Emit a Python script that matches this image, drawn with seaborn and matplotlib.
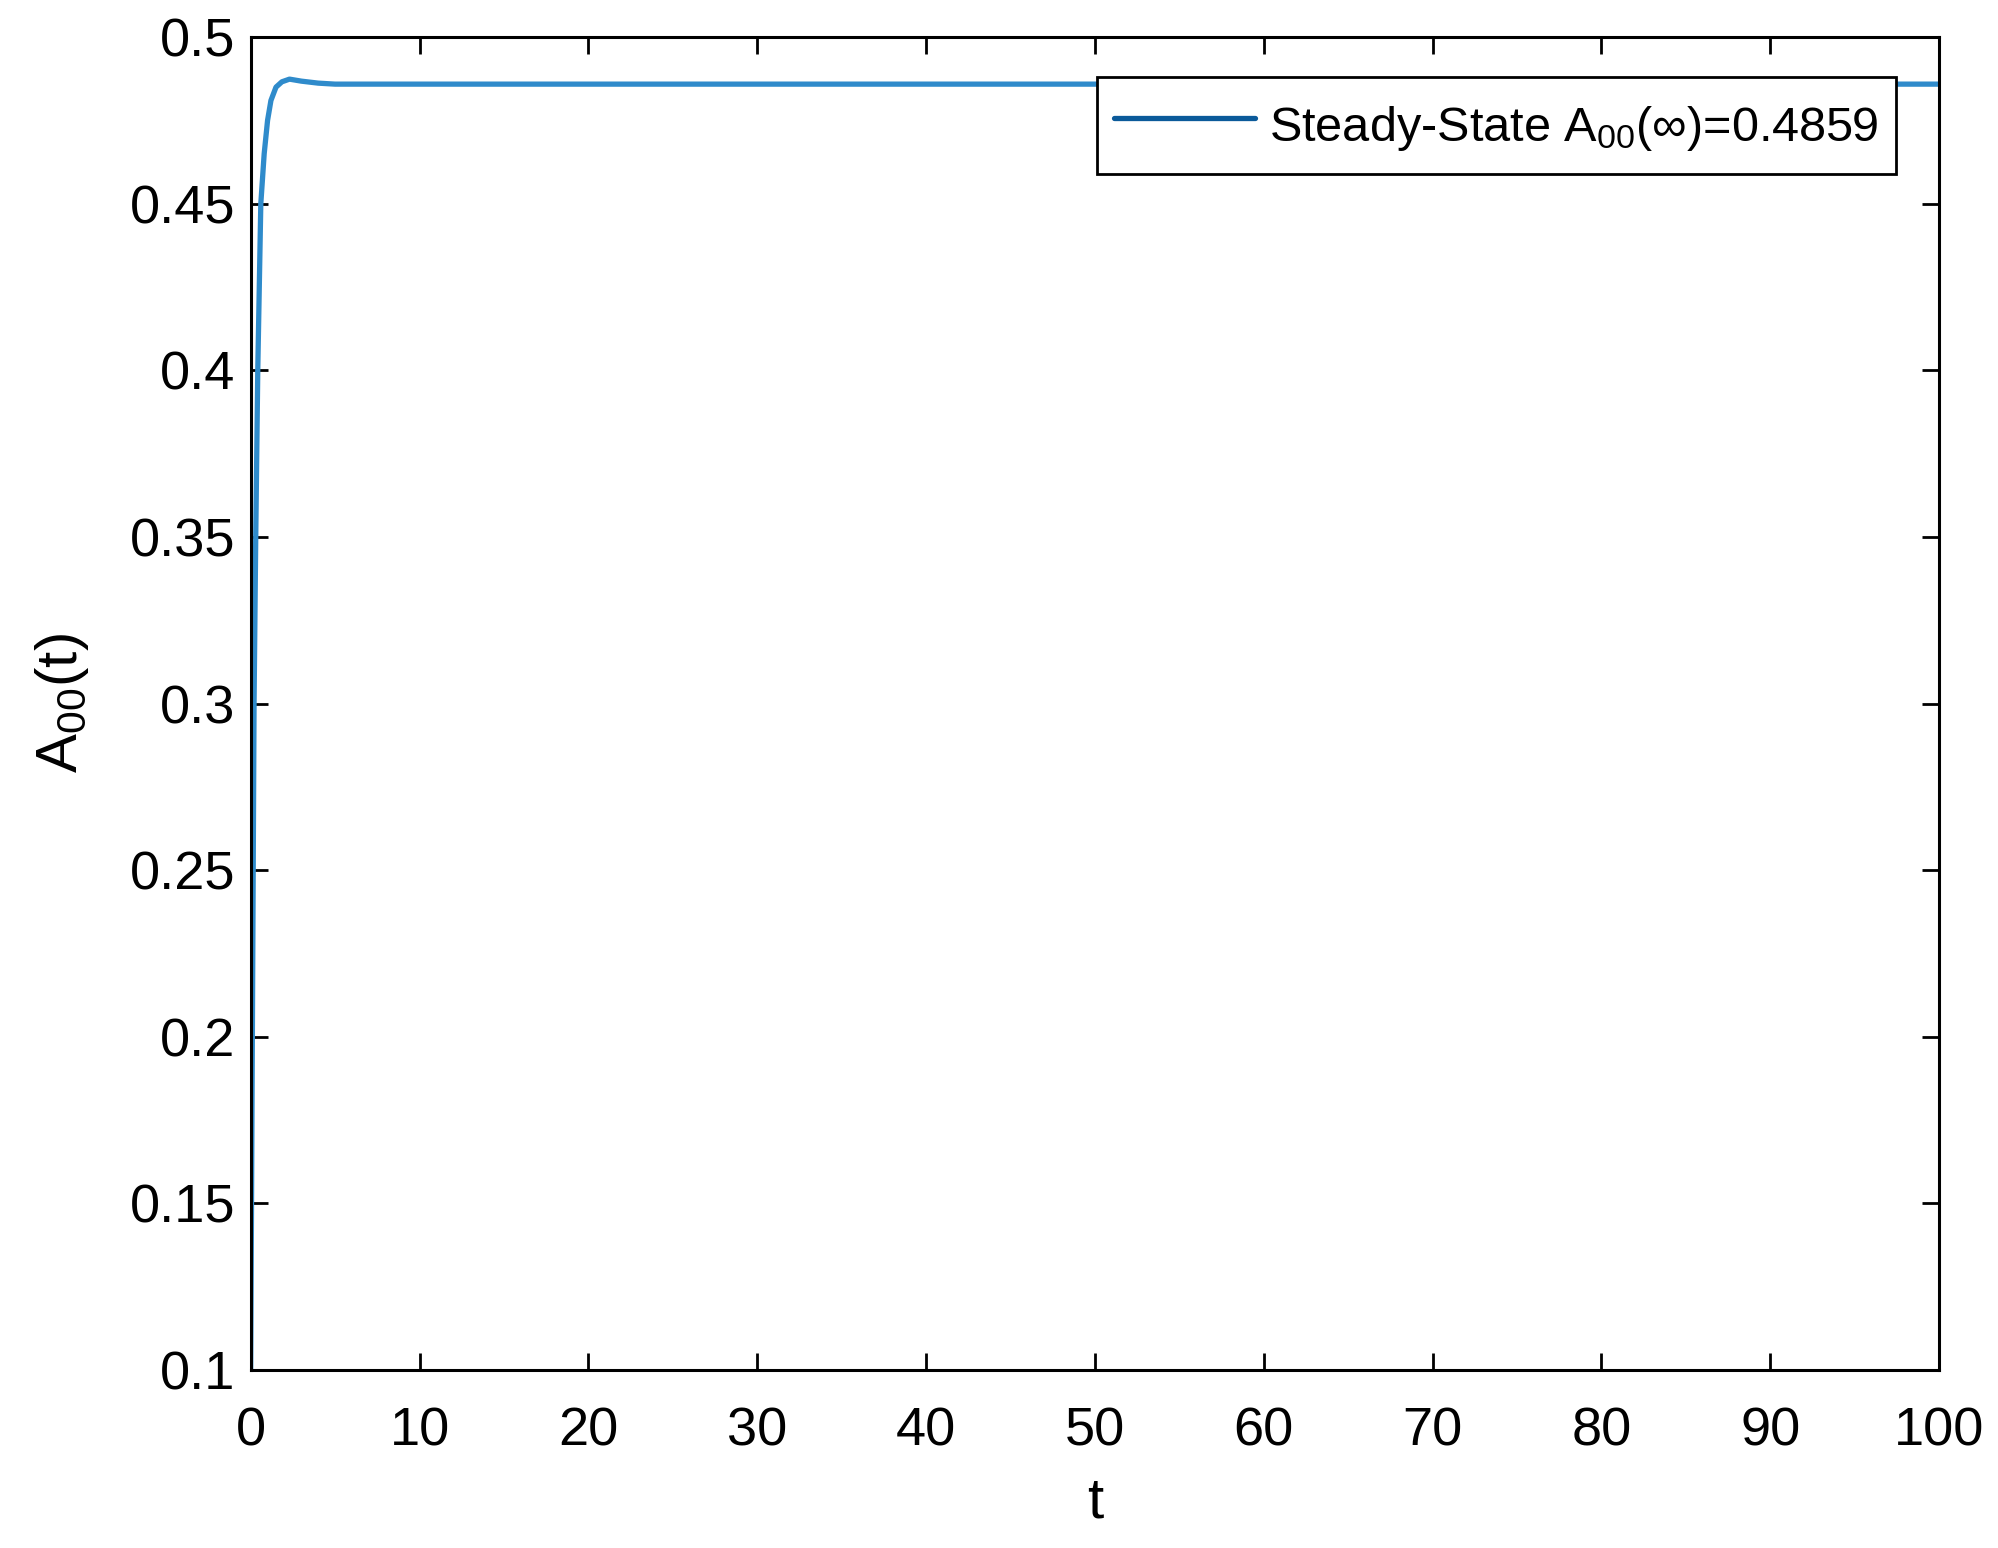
import seaborn as sns
import matplotlib.pyplot as plt
import pandas as pd

# values (transient of A00(t))
t_vals = [0, 0.1, 0.2, 0.3, 0.42, 0.6, 0.8, 1.0, 1.2, 1.5, 1.85, 2.3, 3.0, 4.0, 5.0, 100]
a_vals = [0.10, 0.20, 0.30, 0.35, 0.40, 0.45, 0.465, 0.475, 0.481, 0.485,
          0.4866, 0.4874, 0.4868, 0.4862, 0.4859, 0.4859]
legend_label = r'Steady-State $\mathregular{A_{00}(\infty)}$=0.4859'

df = pd.DataFrame({'t': t_vals, 'A': a_vals})

sns.set_style('ticks')
plt.rcParams['font.family'] = ['Liberation Sans', 'DejaVu Sans']
plt.rcParams['mathtext.fontset'] = 'custom'
plt.rcParams['mathtext.rm'] = 'Liberation Sans'
plt.rcParams['text.color'] = 'black'
plt.rcParams['axes.labelcolor'] = 'black'
plt.rcParams['xtick.color'] = 'black'
plt.rcParams['ytick.color'] = 'black'

fig = plt.figure(figsize=(19.99, 15.48), dpi=100)
ax = fig.add_axes([0.1254, 0.115, 0.8446, 0.861])

sns.lineplot(x='t', y='A', data=df, ax=ax, color='#2f8bcb', linewidth=3.8,
             label=legend_label)

ax.set_xlim(0, 100)
ax.set_ylim(0.1, 0.5)
ax.set_xticks(range(0, 101, 10))
ax.set_yticks([0.1, 0.15, 0.2, 0.25, 0.3, 0.35, 0.4, 0.45, 0.5])
ax.set_yticklabels(['0.1', '0.15', '0.2', '0.25', '0.3', '0.35', '0.4', '0.45', '0.5'])
ax.tick_params(direction='in', length=12, width=2, labelsize=39,
               top=True, right=True)
ax.tick_params(axis='x', pad=26)
ax.tick_params(axis='y', pad=11)
for s in ax.spines.values():
    s.set_linewidth(2.2)
    s.set_color('black')

ax.set_xlabel('t', fontsize=42, labelpad=14)
ax.set_ylabel(r'$\mathregular{A_{00}(t)}$', fontsize=42, labelpad=28)

leg = ax.legend(loc='upper right', bbox_to_anchor=(0.9745, 0.970), fontsize=35,
                frameon=True, fancybox=False, handlelength=2.9, handletextpad=0.3,
                handleheight=1.6, borderpad=0.35, borderaxespad=0)
leg.get_frame().set_edgecolor('black')
leg.get_frame().set_linewidth(2)
leg.get_frame().set_alpha(1)
leg.get_lines()[0].set_color('#0b5a9a')

fig.savefig('out.png', dpi=100)
